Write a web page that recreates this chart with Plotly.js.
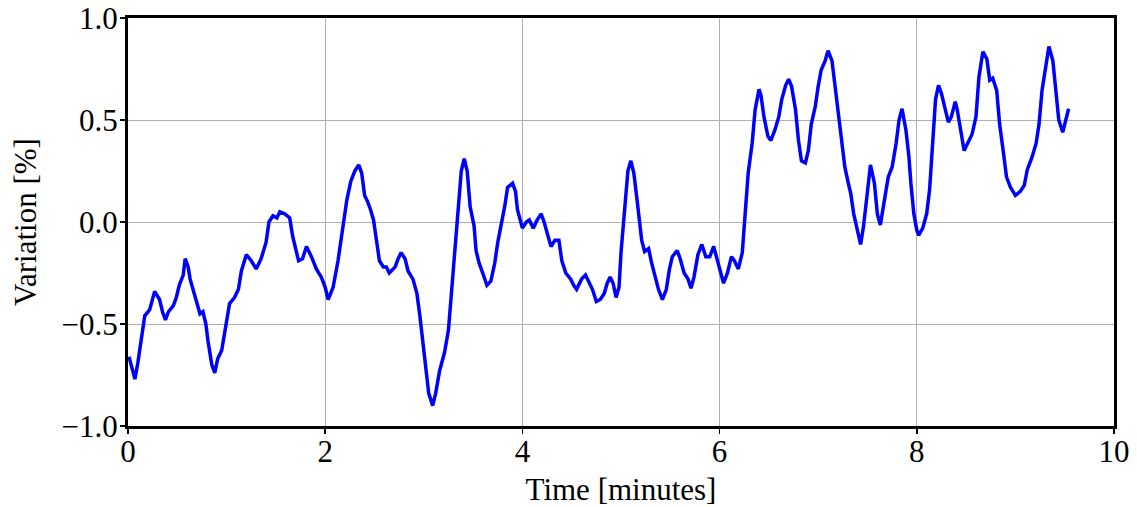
<!DOCTYPE html>
<html>
<head>
<meta charset="utf-8">
<script src="https://cdn.plot.ly/plotly-3.0.1.min.js"></script>
<style>html,body{margin:0;padding:0;background:#fff;}#chart{width:1137px;height:507px;}</style>
</head>
<body>
<div id="chart"></div>
<script>
const timeMinutes = [0.01,0.07,0.10,0.14,0.17,0.22,0.27,0.32,0.35,0.38,0.41,0.46,0.49,0.52,0.56,0.58,0.61,0.63,0.66,0.70,0.73,0.76,0.79,0.81,0.85,0.88,0.91,0.95,0.99,1.03,1.08,1.12,1.15,1.20,1.25,1.30,1.35,1.40,1.43,1.47,1.51,1.54,1.59,1.64,1.67,1.70,1.73,1.77,1.81,1.86,1.91,1.96,2.00,2.03,2.08,2.13,2.17,2.22,2.26,2.30,2.34,2.37,2.40,2.43,2.46,2.49,2.52,2.55,2.59,2.62,2.65,2.71,2.74,2.77,2.81,2.84,2.89,2.93,2.96,3.00,3.03,3.05,3.09,3.12,3.16,3.21,3.25,3.28,3.31,3.35,3.38,3.41,3.44,3.47,3.51,3.53,3.56,3.59,3.64,3.68,3.72,3.75,3.79,3.82,3.85,3.90,3.93,3.95,4.00,4.04,4.07,4.11,4.15,4.19,4.22,4.26,4.29,4.33,4.37,4.40,4.44,4.49,4.52,4.55,4.60,4.64,4.68,4.71,4.75,4.79,4.83,4.86,4.89,4.92,4.95,4.98,5.00,5.04,5.07,5.10,5.13,5.16,5.19,5.21,5.24,5.28,5.31,5.35,5.38,5.42,5.46,5.49,5.52,5.57,5.60,5.64,5.68,5.71,5.74,5.78,5.82,5.86,5.90,5.94,5.97,6.01,6.04,6.08,6.12,6.15,6.19,6.23,6.26,6.29,6.33,6.36,6.40,6.42,6.45,6.49,6.52,6.56,6.60,6.63,6.67,6.70,6.73,6.77,6.80,6.83,6.87,6.90,6.93,6.97,7.00,7.03,7.07,7.10,7.14,7.17,7.20,7.24,7.27,7.31,7.33,7.36,7.40,7.43,7.46,7.49,7.53,7.57,7.60,7.63,7.66,7.71,7.75,7.79,7.82,7.85,7.89,7.92,7.94,7.97,8.00,8.02,8.06,8.10,8.13,8.16,8.19,8.22,8.25,8.29,8.32,8.35,8.39,8.41,8.45,8.48,8.52,8.56,8.60,8.63,8.67,8.71,8.74,8.77,8.81,8.84,8.88,8.91,8.95,9.00,9.05,9.09,9.12,9.17,9.21,9.24,9.27,9.31,9.34,9.38,9.41,9.44,9.48,9.51,9.54];
const variationPct = [-0.66,-0.77,-0.69,-0.56,-0.46,-0.43,-0.34,-0.38,-0.44,-0.48,-0.44,-0.41,-0.37,-0.31,-0.26,-0.18,-0.22,-0.28,-0.33,-0.40,-0.45,-0.44,-0.50,-0.58,-0.70,-0.74,-0.67,-0.63,-0.51,-0.40,-0.37,-0.33,-0.24,-0.16,-0.19,-0.23,-0.18,-0.10,0.00,0.03,0.02,0.05,0.04,0.02,-0.07,-0.14,-0.19,-0.18,-0.12,-0.17,-0.23,-0.27,-0.32,-0.38,-0.32,-0.19,-0.06,0.11,0.20,0.25,0.28,0.24,0.13,0.10,0.06,0.01,-0.09,-0.19,-0.22,-0.22,-0.25,-0.22,-0.18,-0.15,-0.18,-0.24,-0.28,-0.35,-0.46,-0.63,-0.74,-0.84,-0.90,-0.84,-0.73,-0.64,-0.53,-0.35,-0.15,0.11,0.25,0.31,0.25,0.075,-0.02,-0.14,-0.20,-0.24,-0.31,-0.29,-0.20,-0.10,-0.01,0.075,0.17,0.19,0.15,0.06,-0.03,0.00,0.01,-0.03,0.01,0.04,0.00,-0.07,-0.12,-0.09,-0.09,-0.19,-0.25,-0.28,-0.31,-0.33,-0.28,-0.26,-0.30,-0.33,-0.39,-0.38,-0.35,-0.30,-0.27,-0.30,-0.37,-0.32,-0.15,0.09,0.25,0.30,0.24,0.12,0.01,-0.09,-0.145,-0.13,-0.20,-0.27,-0.33,-0.38,-0.33,-0.235,-0.17,-0.14,-0.18,-0.25,-0.28,-0.325,-0.27,-0.16,-0.11,-0.17,-0.17,-0.12,-0.17,-0.25,-0.30,-0.25,-0.17,-0.19,-0.23,-0.15,0.03,0.24,0.385,0.55,0.65,0.62,0.515,0.42,0.40,0.45,0.515,0.60,0.67,0.70,0.665,0.55,0.40,0.30,0.29,0.35,0.48,0.565,0.665,0.745,0.79,0.84,0.79,0.665,0.55,0.40,0.27,0.18,0.14,0.04,-0.055,-0.11,-0.02,0.12,0.28,0.19,0.04,-0.015,0.075,0.22,0.27,0.385,0.50,0.555,0.45,0.32,0.19,0.04,-0.04,-0.065,-0.03,0.04,0.16,0.385,0.60,0.67,0.63,0.55,0.49,0.515,0.59,0.55,0.42,0.35,0.39,0.43,0.515,0.71,0.835,0.80,0.695,0.705,0.645,0.48,0.335,0.22,0.17,0.13,0.15,0.18,0.255,0.32,0.385,0.48,0.645,0.78,0.86,0.79,0.63,0.50,0.44,0.49,0.555];
const xTicks = [0,2,4,6,8,10];
const yTicks = [-1.0,-0.5,0.0,0.5,1.0];
const yTickText = ['\u22121.0','\u22120.5','0.0','0.5','1.0'];

const fontFam = 'Liberation Serif, serif';
const trace = {
  x: timeMinutes, y: variationPct, type: 'scatter', mode: 'lines',
  line: {color: '#0000ff', width: 3.5}, hoverinfo: 'skip'
};
const layout = {
  width: 1137, height: 507,
  margin: {l: 128, r: 23, t: 18, b: 81},
  paper_bgcolor: '#ffffff', plot_bgcolor: '#ffffff',
  showlegend: false,
  font: {family: fontFam, size: 31, color: '#000'},
  xaxis: {
    range: [0, 10], tickvals: xTicks, ticktext: xTicks.map(String),
    showgrid: true, gridcolor: '#b0b0b0', gridwidth: 1,
    showline: true, linecolor: '#000', linewidth: 3, mirror: true,
    ticks: 'outside', ticklen: 5, tickwidth: 1.5, tickcolor: '#000',
    ticklabelstandoff: -9,
    zeroline: false,
    title: {text: 'Time [minutes]', font: {family: fontFam, size: 31}, standoff: 12},
    tickfont: {family: fontFam, size: 31}
  },
  yaxis: {
    range: [-1, 1], tickvals: yTicks, ticktext: yTickText,
    showgrid: true, gridcolor: '#b0b0b0', gridwidth: 1,
    showline: true, linecolor: '#000', linewidth: 3, mirror: true,
    ticks: 'outside', ticklen: 5, tickwidth: 1.5, tickcolor: '#000',
    ticklabelstandoff: -4,
    zeroline: false,
    title: {text: 'Variation [%]', font: {family: fontFam, size: 31}, standoff: 16},
    tickfont: {family: fontFam, size: 31}
  }
};
Plotly.newPlot('chart', [trace], layout, {displayModeBar: false, staticPlot: true});
</script>
</body>
</html>
